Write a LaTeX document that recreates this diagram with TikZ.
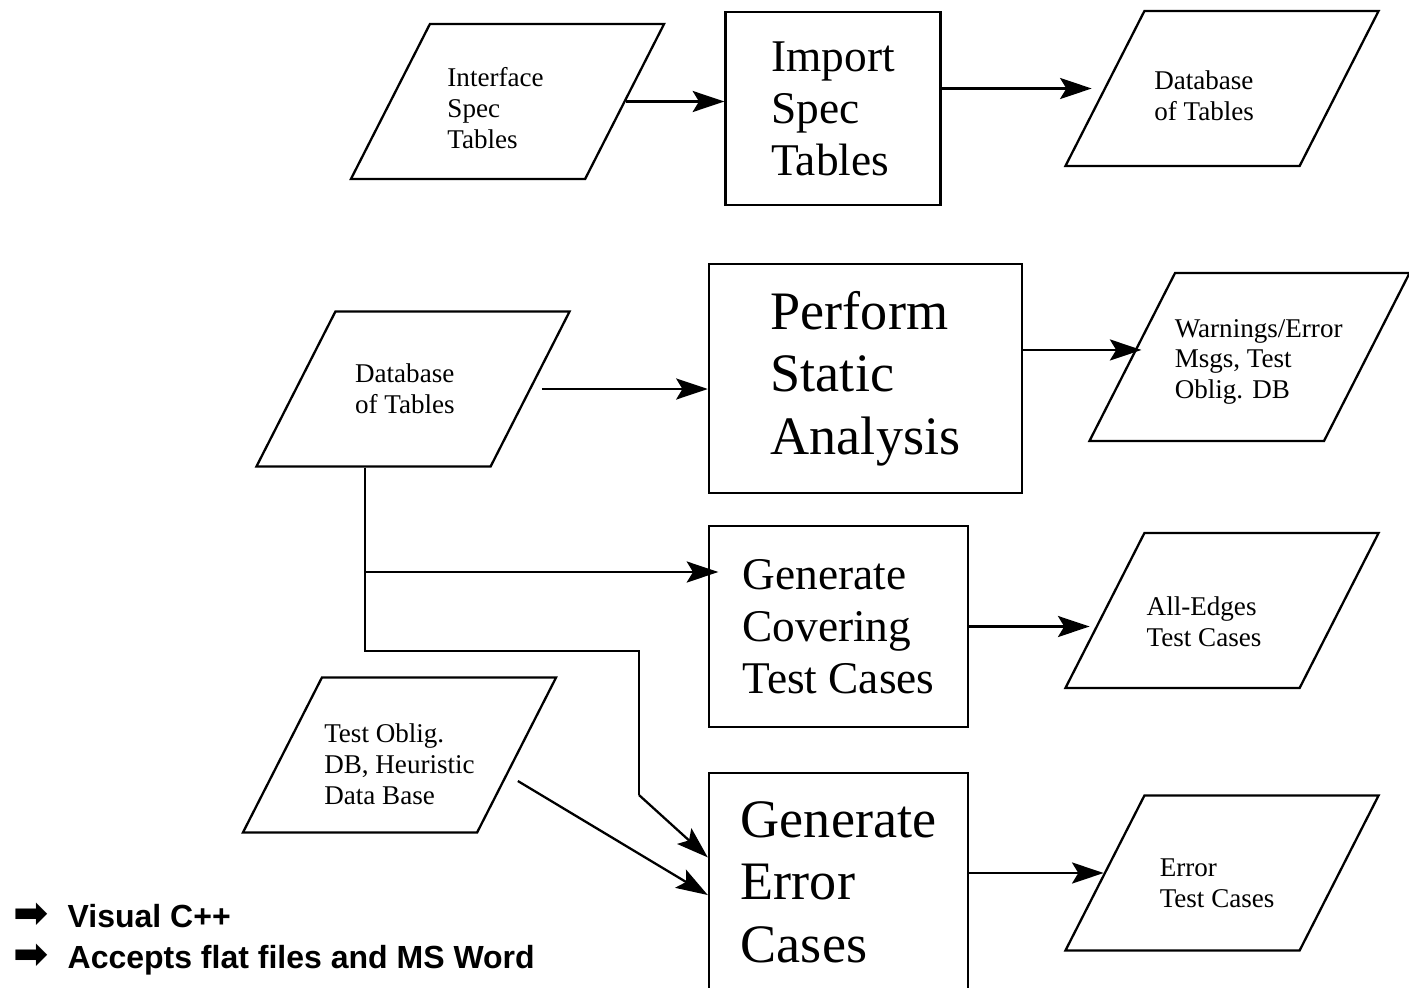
\documentclass[tikz,border=0pt]{standalone}
\usepackage{fontspec}
\setmainfont{Liberation Serif}
\newfontfamily\notefont{Liberation Sans}
\newfontfamily\symbolfont{DejaVu Sans}
\usetikzlibrary{arrows.meta,shapes.geometric}

\newcommand{\notearrow}{\makebox[15.5pt][l]{\symbolfont\fontsize{12}{12}\selectfont ➡}}

\begin{document}
\begin{tikzpicture}[x=0.01cm, y=-0.01cm, line width=0.65pt,
    flow/.style={-{Stealth[length=9pt,width=6pt,inset=1.8pt]}},
    datatext/.style={align=left, font=\fontsize{7.7}{8.8}\selectfont},
    data/.style 2 args={draw, trapezium, trapezium left angle=63, trapezium right angle=117,
      trapezium stretches body, inner sep=0pt, minimum width=3.13cm,
      text height=1.55cm, text depth=0pt, label={[datatext,#1]center:{#2}}},
    proc/.style={draw, rectangle, align=left, inner sep=0pt},
    procsmall/.style={proc, font=\fontsize{12.9}{14.8}\selectfont},
    proclarge/.style={proc, font=\fontsize{15.4}{17.8}\selectfont},
    note/.style={inner sep=0pt, font=\notefont\bfseries\fontsize{9.1}{11}\selectfont}]
        \useasboundingbox (0,0) rectangle (1409,987);

        \node[data={xshift=-3.4pt,yshift=-2pt}{Interface\\Spec\\Tables}] (iface) at (507.5,101.5) {};
        \node[procsmall, minimum width=2.15cm, minimum height=1.93cm] (import) at (833,108.5) {Import\\Spec\\Tables};
        \node[data={xshift=-5.1pt,yshift=-2pt}{Database\\of Tables}] (dbout) at (1222,88.5) {};

        \node[data={xshift=-2.3pt}{Database\\of Tables}] (dbin) at (413,389) {};
        \node[proclarge, minimum width=3.13cm, minimum height=2.29cm] (perform) at (865.5,378.5) {Perform\\Static\\Analysis};
        \node[data={xshift=2.6pt,yshift=-1.4pt}{Warnings/Error\\Msgs, Test\\Oblig. DB},
              minimum width=3.2cm, text height=1.68cm] (warn) at (1249.5,357) {};

        \node[procsmall, minimum width=2.59cm, minimum height=2.01cm] (cover) at (838.5,626.5) {Generate\\Covering\\Test Cases};
        \node[data={xshift=-5.1pt,yshift=-3.1pt}{All-Edges\\Test Cases}] (alledges) at (1222,610.5) {};

        \node[data={yshift=-2.6pt}{Test Oblig.\\DB, Heuristic\\Data Base}] (oblig) at (399.5,755) {};
        \node[proclarge, minimum width=2.59cm, minimum height=2.18cm] (error) at (838.5,882) {Generate\\Error\\Cases};
        \node[data={xshift=-1.4pt,yshift=-2.8pt}{Error\\Test Cases}] (errcases) at (1222,873) {};

        \node[note, anchor=base west] (visual) at (12,927) {\notearrow Visual C++};
        \node[note, anchor=base west] (accepts) at (12,968) {\notearrow Accepts flat files and MS Word};

        \coordinate (split) at (365,572);
        \coordinate (bend) at (365,651);
        \coordinate (drop) at (639,651);
        \coordinate (slope) at (639,795);

        \draw[flow] (iface.east) -- (iface.east -| import.west);
        \draw[flow, shorten >=3.4pt] (import.east |- dbout.west) -- (dbout.west);
        \draw[flow, shorten <=3pt] (dbin.east) -- (dbin.east -| perform.west);
        \draw[flow] ([yshift=2pt]perform.east |- warn.west) -- ([xshift=3pt,yshift=2pt]warn.west);
        \draw (split |- dbin.south) -- (bend) -- (drop) -- (slope);
        \draw[flow, shorten >=-3pt] (split) -- (split -| cover.west);
        \draw[flow] (slope) -- ([yshift=7pt]error.west);
        \draw[flow] ([yshift=-7.4pt]oblig.east) -- ([yshift=-3.7pt]error.west);
        \draw[flow, shorten >=4pt] (cover.east) -- (cover.east -| alledges.west);
        \draw[flow] (error.east |- errcases.west) -- (errcases.west);
      \end{tikzpicture}
\end{document}
